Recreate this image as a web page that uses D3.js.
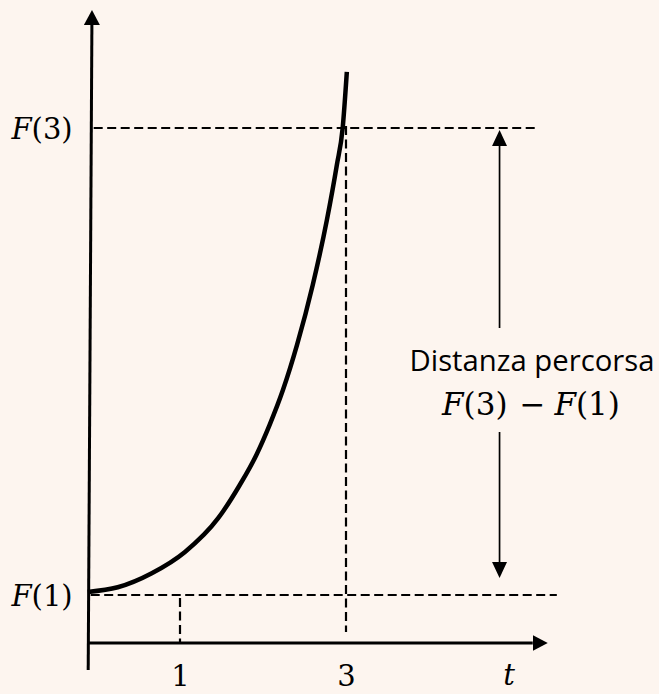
<!DOCTYPE html>
<html>
<head>
<meta charset="utf-8">
<script src="https://cdn.jsdelivr.net/npm/d3@7"></script>
<style>
  html, body { margin: 0; padding: 0; background: #fdf5ef; }
  svg { display: block; }
  .math { font-family: "DejaVu Serif", "Liberation Serif", serif; fill: #000; }
</style>
</head>
<body>
<svg id="myGraph" width="659" height="694"></svg>
<script>
// valori
var tTicks = [1, 3];                 // tacche sull'asse t
var tickLabels = ["1", "3"];
var fLevels = [10, 100];             // F(1), F(3)
var fLabels = ["1", "3"];
// curva F(t)
var curveT = [-0.11, 0.25, 0.66, 1.06, 1.46, 1.72, 1.92, 2.08, 2.24, 2.41, 2.6, 2.77, 2.89, 2.96, 3.01];
var curveF = [10.6, 11.5, 14.2, 18.3, 24.8, 31.2, 37.0, 42.8, 49.5, 58.2, 69.8, 82.3, 92.9, 100.0, 110.8];
var textLine1 = "Distanza percorsa";

window.addEventListener("load", function(){
	var svg = d3.select("#myGraph");
	var tAxis = -0.1;     // posizione dell'asse verticale
	var tArrow = 4.85;    // freccia doppia

	var xScale = d3.scaleLinear().domain([1, 3]).range([180, 346]);
	var yScale = d3.scaleLinear().domain([10, 100]).range([595, 128]);
	var axisY = 643;      // asse t

	// frecce
	var defs = svg.append("defs");
	function marker(id, len, w){
		defs.append("marker")
			.attr("id", id)
			.attr("markerUnits", "userSpaceOnUse")
			.attr("viewBox", "0 " + (-w/2) + " " + len + " " + w)
			.attr("markerWidth", len)
			.attr("markerHeight", w)
			.attr("refX", 0).attr("refY", 0)
			.attr("orient", "auto")
			.append("path")
			.attr("d", "M0," + (-w/2) + "L" + len + ",0L0," + (w/2) + "Z")
			.attr("fill", "#000");
	}
	marker("headAxis", 15, 16);
	marker("headSmall", 16, 15);

	var x0 = xScale(tAxis);

	// linee tratteggiate
	var dash = "9,4.5";
	var dashed = svg.append("g").attr("stroke", "#000").attr("stroke-width", 2.2)
		.attr("stroke-dasharray", dash).attr("fill", "none");
	dashed.append("line")
		.attr("x1", x0 + 5).attr("x2", xScale(5.3))
		.attr("y1", yScale(fLevels[1])).attr("y2", yScale(fLevels[1]));
	dashed.append("line")
		.attr("x1", x0 + 2).attr("x2", xScale(5.54))
		.attr("y1", yScale(fLevels[0])).attr("y2", yScale(fLevels[0]));
	dashed.append("line")
		.attr("x1", xScale(tTicks[0])).attr("x2", xScale(tTicks[0]))
		.attr("y1", yScale(fLevels[0]) + 3).attr("y2", axisY);
	dashed.append("line")
		.attr("x1", xScale(tTicks[1])).attr("x2", xScale(tTicks[1]))
		.attr("y1", yScale(fLevels[1]) - 2).attr("y2", axisY - 11);

	// assi
	svg.append("line")
		.attr("x1", x0 - 0.5).attr("y1", 670)
		.attr("x2", x0 + 3.2).attr("y2", 25)
		.attr("stroke", "#000").attr("stroke-width", 3)
		.attr("marker-end", "url(#headAxis)");
	svg.append("line")
		.attr("x1", x0 - 1).attr("y1", axisY)
		.attr("x2", xScale(5.25)).attr("y2", axisY)
		.attr("stroke", "#000").attr("stroke-width", 3)
		.attr("marker-end", "url(#headAxis)");

	// etichette asse t
	var bottomAxis = d3.axisBottom(xScale)
		.tickValues(tTicks)
		.tickSize(0).tickPadding(22)
		.tickFormat(function(d, i){ return tickLabels[i]; });
	var gb = svg.append("g").attr("transform", "translate(0," + axisY + ")").call(bottomAxis);
	gb.select(".domain").remove();
	gb.selectAll("text").attr("class", "math").attr("font-size", 29).attr("fill", "#000");

	// etichette asse F
	var leftAxis = d3.axisLeft(yScale)
		.tickValues(fLevels)
		.tickSize(0).tickPadding(16);
	var gl = svg.append("g").attr("transform", "translate(" + x0 + ",0)").call(leftAxis);
	gl.select(".domain").remove();
	gl.selectAll("text").attr("class", "math").attr("font-size", 29).attr("fill", "#000")
		.attr("dy", "0.36em")
		.text(null)
		.each(function(d, i){
			var t = d3.select(this);
			t.append("tspan").attr("font-style", "italic").text("F");
			t.append("tspan").text("(" + fLabels[i] + ")");
		});

	// nome asse t
	svg.append("text").attr("class", "math")
		.attr("x", 509).attr("y", 685)
		.attr("text-anchor", "middle").attr("font-size", 29).attr("font-style", "italic")
		.text("t");

	// curva
	var line = d3.line()
		.x(function(d){ return xScale(d[0]); })
		.y(function(d){ return yScale(d[1]); })
		.curve(d3.curveMonotoneX);
	svg.append("path")
		.datum(curveT.map(function(t, i){ return [t, curveF[i]]; }))
		.attr("d", line)
		.attr("fill", "none").attr("stroke", "#000").attr("stroke-width", 4.5);

	// freccia doppia
	var xa = xScale(tArrow);
	svg.append("line")
		.attr("x1", xa).attr("x2", xa)
		.attr("y1", 328).attr("y2", yScale(fLevels[1]) + 18)
		.attr("stroke", "#000").attr("stroke-width", 1.7)
		.attr("marker-end", "url(#headSmall)");
	svg.append("line")
		.attr("x1", xa).attr("x2", xa)
		.attr("y1", 432).attr("y2", yScale(fLevels[0]) - 33)
		.attr("stroke", "#000").attr("stroke-width", 1.7)
		.attr("marker-end", "url(#headSmall)");

	// testo
	var t1 = svg.append("text")
		.attr("x", 532).attr("y", 371)
		.attr("text-anchor", "middle")
		.attr("font-family", "'Open Sans', 'Noto Sans', sans-serif")
		.attr("font-size", 26).attr("fill", "#000")
		.text(textLine1);
	var w = t1.node().getComputedTextLength();
	t1.attr("font-size", 26 * 245 / w);

	var t2 = svg.append("text").attr("class", "math")
		.attr("x", 531).attr("y", 415)
		.attr("text-anchor", "middle").attr("font-size", 31);
	t2.append("tspan").attr("font-style", "italic").text("F");
	t2.append("tspan").text("(3)");
	t2.append("tspan").attr("dx", 12).text("\u2212");
	t2.append("tspan").attr("dx", 9).attr("font-style", "italic").text("F");
	t2.append("tspan").text("(1)");
});
</script>
</body>
</html>
